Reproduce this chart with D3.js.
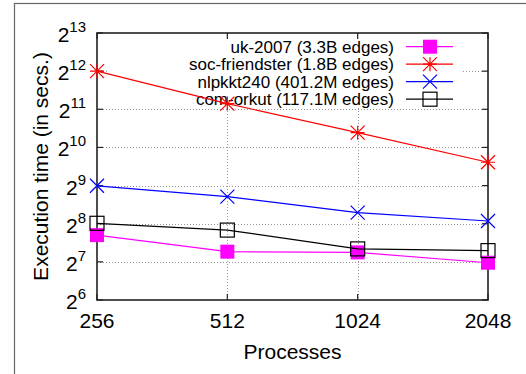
<!DOCTYPE html>
<html>
<head>
<meta charset="utf-8">
<script src="https://cdn.jsdelivr.net/npm/d3@7"></script>
<style>
  body { margin: 0; background: #fff; }
  text { font-family: "Liberation Sans", Arial, sans-serif; fill: #000; }
</style>
</head>
<body>
<svg id="chart" width="526" height="374"></svg>
<script>
// data
const processes = [256, 512, 1024, 2048];
const ukTimes = [208, 154, 152, 126];
const socTimes = [4096, 2270, 1340, 782];
const nlpTimes = [510, 419, 313, 269];
const orkutTimes = [258, 228, 162, 157];
const seriesNames = [
  "uk-2007 (3.3B edges)",
  "soc-friendster (1.8B edges)",
  "nlpkkt240 (401.2M edges)",
  "com-orkut (117.1M edges)"
];
const yTickExps = [6, 7, 8, 9, 10, 11, 12, 13];

const series = [
  {name: seriesNames[0], values: ukTimes, color: "#ff00ff", marker: "fsquare"},
  {name: seriesNames[1], values: socTimes, color: "#ff0000", marker: "star"},
  {name: seriesNames[2], values: nlpTimes, color: "#0000ff", marker: "cross"},
  {name: seriesNames[3], values: orkutTimes, color: "#000000", marker: "osquare"}
];

const pLeft = 97, pRight = 488, pTop = 33, pBottom = 300;

const x = d3.scaleLog().base(2)
    .domain([256, 2048])
    .range([pLeft, pRight]);
const y = d3.scaleLog().base(2)
    .domain([64, 8192])
    .range([pBottom, pTop]);

const svg = d3.select("#chart");

// outer frame
svg.append("rect")
    .attr("x", 14.5).attr("y", 3.5)
    .attr("width", 540).attr("height", 400)
    .attr("fill", "none")
    .attr("stroke", "#666")
    .attr("stroke-width", 1.2);

// grid
const grid = svg.append("g")
    .attr("stroke", "#999")
    .attr("stroke-width", 1)
    .attr("stroke-dasharray", "1,2");
grid.selectAll(".hgrid")
    .data(yTickExps.slice(1, -1))
    .enter().append("line")
    .attr("x1", pLeft).attr("x2", pRight)
    .attr("y1", d => Math.round(y(Math.pow(2, d))) + 0.5)
    .attr("y2", d => Math.round(y(Math.pow(2, d))) + 0.5);
grid.selectAll(".vgrid")
    .data(processes.slice(1, -1))
    .enter().append("line")
    .attr("y1", pTop).attr("y2", pBottom)
    .attr("x1", d => Math.round(x(d)) + 0.5)
    .attr("x2", d => Math.round(x(d)) + 0.5);

// opaque legend background
svg.append("rect")
    .attr("x", 108).attr("y", 36)
    .attr("width", 355).attr("height", 72)
    .attr("fill", "#fff");

// ticks (inward, mirrored)
const ticks = svg.append("g").attr("stroke", "#222").attr("stroke-width", 1.2);
yTickExps.forEach(e => {
  const yy = y(Math.pow(2, e));
  ticks.append("line").attr("x1", pLeft).attr("x2", pLeft + 6).attr("y1", yy).attr("y2", yy);
  ticks.append("line").attr("x1", pRight).attr("x2", pRight - 6).attr("y1", yy).attr("y2", yy);
});
processes.forEach(p => {
  const xx = x(p);
  ticks.append("line").attr("x1", xx).attr("x2", xx).attr("y1", pBottom).attr("y2", pBottom - 6);
  ticks.append("line").attr("x1", xx).attr("x2", xx).attr("y1", pTop).attr("y2", pTop + 6);
});

// border
svg.append("rect")
    .attr("x", pLeft).attr("y", pTop)
    .attr("width", pRight - pLeft).attr("height", pBottom - pTop)
    .attr("fill", "none")
    .attr("stroke", "#222")
    .attr("stroke-width", 1.6);

// y tick labels: 2^n
const yLabels = svg.append("g");
yTickExps.forEach(e => {
  const yy = y(Math.pow(2, e));
  const t = yLabels.append("text")
      .attr("x", 86)
      .attr("y", yy + 9)
      .attr("text-anchor", "end")
      .attr("font-size", 21);
  t.append("tspan").text("2");
  t.append("tspan").attr("dy", -10).attr("font-size", 15).text(e);
});

// x tick labels
svg.append("g").selectAll("text")
    .data(processes)
    .enter().append("text")
    .attr("x", d => x(d))
    .attr("y", 328)
    .attr("text-anchor", "middle")
    .attr("font-size", 21)
    .text(d => d);

// axis titles
svg.append("text")
    .attr("x", (pLeft + pRight) / 2)
    .attr("y", 359)
    .attr("text-anchor", "middle")
    .attr("font-size", 21)
    .text("Processes");
svg.append("text")
    .attr("transform", `translate(48,${(pTop + pBottom) / 2}) rotate(-90)`)
    .attr("text-anchor", "middle")
    .attr("font-size", 21)
    .text("Execution time (in secs.)");

// legend text
const legendY = i => 46.7 + i * 17.5;
svg.append("g").selectAll("text")
    .data(series)
    .enter().append("text")
    .attr("x", 394)
    .attr("y", (d, i) => legendY(i) + 6)
    .attr("text-anchor", "end")
    .attr("font-size", 17)
    .text(d => d.name);

function drawMarker(g, kind, color, cx, cy) {
  const h = 7;
  if (kind === "fsquare") {
    g.append("rect").attr("x", cx - h).attr("y", cy - h)
      .attr("width", 2 * h).attr("height", 2 * h)
      .attr("fill", color);
  } else if (kind === "osquare") {
    g.append("rect").attr("x", cx - h).attr("y", cy - h)
      .attr("width", 2 * h).attr("height", 2 * h)
      .attr("fill", "none").attr("stroke", color).attr("stroke-width", 1.2);
  } else {
    const p = d3.path();
    p.moveTo(cx - h, cy - h); p.lineTo(cx + h, cy + h);
    p.moveTo(cx - h, cy + h); p.lineTo(cx + h, cy - h);
    if (kind === "star") {
      p.moveTo(cx - h, cy); p.lineTo(cx + h, cy);
      p.moveTo(cx, cy - h); p.lineTo(cx, cy + h);
    }
    g.append("path").attr("d", p.toString())
      .attr("fill", "none").attr("stroke", color).attr("stroke-width", 1.2);
  }
}

// series lines and markers
const line = d3.line()
    .x((d, i) => x(processes[i]))
    .y(d => y(d));

series.forEach((s, i) => {
  const g = svg.append("g");
  g.append("path")
      .attr("d", line(s.values))
      .attr("fill", "none")
      .attr("stroke", s.color)
      .attr("stroke-width", 1.2);
  s.values.forEach((v, j) => drawMarker(g, s.marker, s.color, x(processes[j]), y(v)));
  // legend sample
  const ly = legendY(i);
  g.append("line")
      .attr("x1", 406).attr("x2", 453)
      .attr("y1", ly).attr("y2", ly)
      .attr("stroke", s.color)
      .attr("stroke-width", 1.2);
  drawMarker(g, s.marker, s.color, 430, ly);
});
</script>
</body>
</html>
